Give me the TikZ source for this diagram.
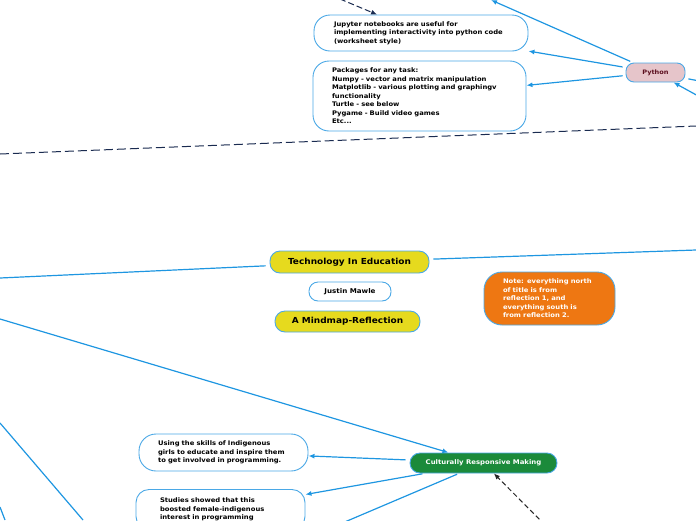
\documentclass[tikz,border=0pt]{standalone}
\usepackage{fontspec}
\setmainfont{DejaVu Sans}[FakeStretch=1.08]
\usepackage{tikz}
\usetikzlibrary{arrows.meta}

\definecolor{linkblue}{HTML}{1E96E1}
\definecolor{rimblue}{HTML}{4AA8E6}
\definecolor{mapyellow}{HTML}{E6DA1E}
\definecolor{pypink}{HTML}{E6C5CA}
\definecolor{pyred}{HTML}{5C0F1F}
\definecolor{noteorange}{HTML}{EE7712}
\definecolor{crmgreen}{HTML}{1B8A3A}
\definecolor{sepnavy}{HTML}{1A2B50}

\begin{document}
\begin{tikzpicture}[x=1pt,y=-1pt,
    >={Latex[length=6pt,width=5pt]},
    link/.style={draw=linkblue,line width=1.2pt},
    topic/.style={draw=rimblue,line width=0.9pt,inner sep=0pt,font=\bfseries},
    textbox/.style={topic,fill=white,align=left,font=\bfseries\fontsize{6.3}{8.5}\selectfont},
    navydash/.style={draw=sepnavy,line width=1pt,dash pattern=on 6pt off 3pt},
    blackdash/.style={draw=black!85,line width=1pt,dash pattern=on 5pt off 3pt}]
        \useasboundingbox (0,0) rectangle (696,520);
        \clip (0,0) rectangle (696,520);

        % north of the title
        \node[textbox,rounded corners=16pt,inner xsep=20pt,text width=174pt,minimum height=36pt] (jupyter) at (421,33)
            {Jupyter notebooks are useful for\\implementing interactivity into python code\\(worksheet style)};
        \node[textbox,rounded corners=16pt,inner xsep=19pt,text width=175pt,minimum height=70pt] (packages) at (419.5,96)
            {Packages for any task:\\Numpy - vector and matrix manipulation\\Matplotlib - various plotting and graphingv\\functionality\\Turtle - see below\\Pygame - Build video games\\Etc...};
        \node[topic,fill=pypink,text=pyred,rounded corners=8pt,minimum width=59pt,minimum height=19pt,
            font=\bfseries\fontsize{6.1}{8}\selectfont] (python) at (655.5,72.5) {Python};

        \coordinate (pyUp) at (491,0);
        \coordinate (pyRight) at (720,85);
        \coordinate (pyLow) at (700,97);
        \coordinate (topDash) at (340,-1);
        \draw[link,->,shorten <=3pt] (python) -- (pyUp);
        \draw[link,->,shorten <=3pt] (python) -- (jupyter);
        \draw[link,->,shorten <=3pt] (python) -- (packages);
        \draw[link,shorten <=3pt] (python) -- (pyRight);
        \draw[link,->] (pyLow) -- (python);
        \draw[navydash,->] (topDash) -- (jupyter);

        % dividing line
        \coordinate (sepW) at (0,154);
        \coordinate (sepE) at (696,126);
        \draw[navydash,dash pattern=on 9pt off 4pt] (sepW) -- (sepE);

        % title
        \node[topic,fill=mapyellow,rounded corners=10pt,minimum width=159pt,minimum height=22pt,
            font=\bfseries\fontsize{8.3}{9}\selectfont] (tech) at (349.5,262) {Technology In Education};
        \node[topic,fill=white,rounded corners=9pt,minimum width=82pt,minimum height=19pt,
            font=\bfseries\fontsize{6.6}{7}\selectfont] (author) at (350,291.5) {Justin Mawle};
        \node[topic,fill=mapyellow,rounded corners=10pt,minimum width=145pt,minimum height=21pt,
            font=\bfseries\fontsize{8.3}{9}\selectfont] (reflection) at (347.5,321.5) {A Mindmap-Reflection};
        \node[textbox,fill=noteorange,text=white,rounded corners=18pt,inner xsep=19pt,text width=93pt,minimum height=53pt] (note) at (549.5,298.5)
            {Note: everything north\\of title is from\\reflection 1, and\\everything south is\\from reflection 2.};

        \coordinate (techW) at (0,278);
        \coordinate (techE) at (696,250);
        \draw[link,shorten <=4pt] (tech) -- (techW);
        \draw[link,shorten <=4pt] (tech) -- (techE);

        % south of the title
        \node[topic,fill=crmgreen,text=white,rounded corners=10pt,minimum width=147pt,minimum height=20pt,
            font=\bfseries\fontsize{6.4}{8}\selectfont] (crm) at (483.5,463) {Culturally Responsive Making};
        \node[textbox,rounded corners=17pt,inner xsep=19pt,text width=131pt,minimum height=37pt] (using) at (223.5,452.5)
            {Using the skills of Indigenous\\girls to educate and inspire them\\to get involved in programming.};
        \node[textbox,rounded corners=13pt,inner xsep=24pt,text width=121pt,minimum height=40pt] (studies) at (220.5,509.5)
            {Studies showed that this\\boosted female-indigenous\\interest in programming};

        \coordinate (crmFrom) at (0,319);
        \coordinate (crmS) at (340,524);
        \coordinate (crmDash) at (545,525);
        \draw[link,->] (crmFrom) -- (crm);
        \draw[link,->,shorten <=4pt] (crm) -- (using);
        \draw[link,->,shorten <=2pt] (crm) -- (studies);
        \draw[link,shorten <=2pt] (crm) -- (crmS);
        \draw[blackdash,->] (crmDash) -- (crm);

        % branches from the left edge
        \coordinate (leftA) at (0,423);
        \coordinate (leftB) at (83,520);
        \coordinate (leftC) at (0,507);
        \coordinate (leftD) at (5,520);
        \draw[link] (leftA) -- (leftB);
        \draw[link] (leftC) -- (leftD);
      \end{tikzpicture}
\end{document}
